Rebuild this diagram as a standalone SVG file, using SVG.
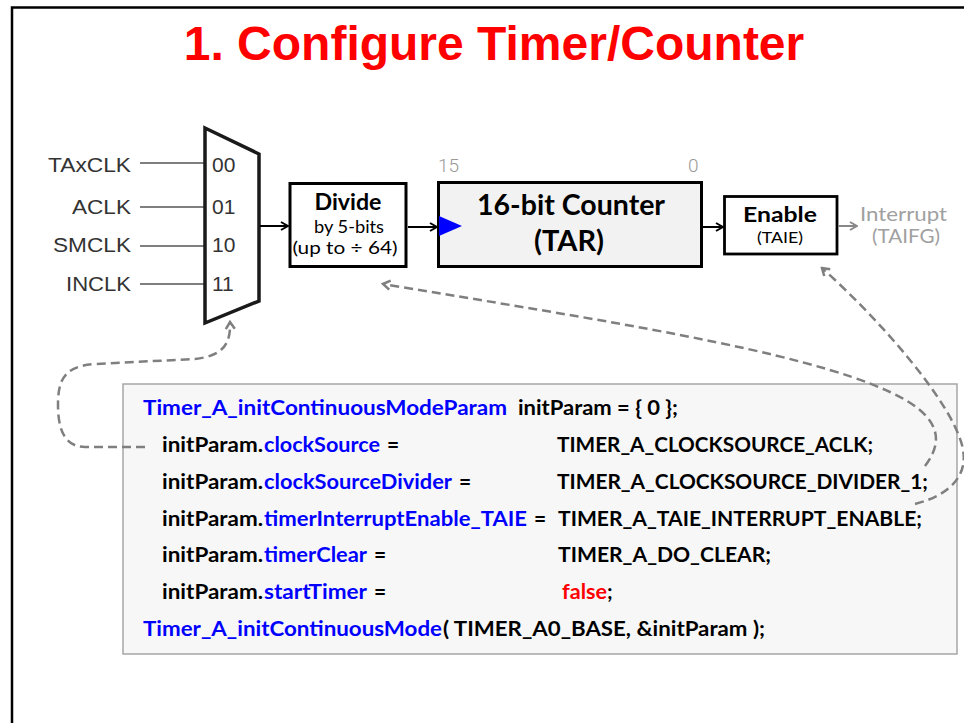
<svg xmlns="http://www.w3.org/2000/svg" width="964" height="723" viewBox="0 0 964 723">
<defs>
<style>
.cal{font-family:Lato,"Liberation Sans",sans-serif}
.arial{font-family:"Liberation Sans",Arial,sans-serif}
.code{font-family:Lato,"Liberation Sans",sans-serif;font-weight:bold;font-size:21px;fill:#000}
.blue{fill:#0000ff}
.red{fill:#ff0000}
.box{stroke:#000;stroke-width:3;fill:#fff}
.inl{stroke:#555;stroke-width:1.3}
.muxl{font-size:20px;fill:#333}
.dig{font-family:"Liberation Sans",Arial,sans-serif;font-size:21px;fill:#333}
.dash{fill:none;stroke:#7f7f7f;stroke-width:2.5;stroke-dasharray:9 5}
</style>
<marker id="ah" viewBox="0 0 10 10" refX="9" refY="5" markerWidth="10" markerHeight="10" markerUnits="userSpaceOnUse" orient="auto">
<path d="M2,1 L9,5 L2,9" fill="none" stroke="#000" stroke-width="2"/>
</marker>
<marker id="ahg" viewBox="0 0 10 10" refX="9" refY="5" markerWidth="10" markerHeight="10" markerUnits="userSpaceOnUse" orient="auto">
<path d="M2,1 L9,5 L2,9" fill="none" stroke="#888" stroke-width="2"/>
</marker>
<marker id="ahd" viewBox="0 0 12 12" refX="10" refY="6" markerWidth="12" markerHeight="12" markerUnits="userSpaceOnUse" orient="auto">
<path d="M3,1.5 L10,6 L3,10.5" fill="none" stroke="#7f7f7f" stroke-width="2.5"/>
</marker>
</defs>
<rect width="964" height="723" fill="#fff"/>
<path d="M12,730 L12,7.5 L970,7.5" fill="none" stroke="#000" stroke-width="2.5"/>
<text x="494" y="60" text-anchor="middle" class="arial" font-size="48" font-weight="bold" fill="#ff0000">1. Configure Timer/Counter</text>

<g id="mux">
<line class="inl" x1="140" y1="163" x2="205" y2="163"/>
<line class="inl" x1="140" y1="207" x2="205" y2="207"/>
<line class="inl" x1="140" y1="246" x2="205" y2="246"/>
<line class="inl" x1="140" y1="284" x2="205" y2="284"/>
<text class="arial muxl" x="131" y="172" text-anchor="end" textLength="83" lengthAdjust="spacingAndGlyphs">TAxCLK</text>
<text class="arial muxl" x="131" y="214" text-anchor="end" textLength="59" lengthAdjust="spacingAndGlyphs">ACLK</text>
<text class="arial muxl" x="131" y="252" text-anchor="end" textLength="78" lengthAdjust="spacingAndGlyphs">SMCLK</text>
<text class="arial muxl" x="131" y="291" text-anchor="end" textLength="65" lengthAdjust="spacingAndGlyphs">INCLK</text>
<polygon points="205,128 259,154 259,301 205,323" fill="#fff" stroke="#1a1a1a" stroke-width="3.5" stroke-linejoin="miter"/>
<text class="dig" x="212" y="172">00</text>
<text class="dig" x="212" y="214">01</text>
<text class="dig" x="212" y="252">10</text>
<text class="dig" x="212" y="291">11</text>
</g>

<g id="divide">
<rect class="box" x="290" y="183.5" width="116" height="83"/>
<text class="cal" x="348" y="210" text-anchor="middle" font-size="22" font-weight="bold" textLength="67" lengthAdjust="spacingAndGlyphs">Divide</text>
<text class="cal" x="349" y="233" text-anchor="middle" font-size="17" textLength="70" lengthAdjust="spacingAndGlyphs">by 5-bits</text>
<text class="cal" x="345" y="254" text-anchor="middle" font-size="17" textLength="105" lengthAdjust="spacingAndGlyphs">(up to ÷ 64)</text>
</g>

<g id="counter">
<text x="438" y="172" font-family="Roboto,sans-serif" font-weight="300" font-size="19" fill="#999">15</text>
<text x="688" y="172" font-family="Roboto,sans-serif" font-weight="300" font-size="19" fill="#999">0</text>
<rect x="438.5" y="182.5" width="263" height="84" fill="#f2f2f2" stroke="#000" stroke-width="3"/>
<polygon points="439,216 462,226 439,236" fill="#0000ff"/>
<text class="cal" x="571" y="215" text-anchor="middle" font-size="29" font-weight="bold" textLength="188" lengthAdjust="spacingAndGlyphs">16-bit Counter</text>
<text class="cal" x="569" y="251" text-anchor="middle" font-size="29" font-weight="bold">(TAR)</text>
</g>

<g id="enable">
<rect x="724.5" y="196.5" width="112.5" height="57.5" fill="#fff" stroke="#000" stroke-width="2.8"/>
<text class="cal" x="780" y="222" text-anchor="middle" font-size="21" font-weight="bold" textLength="74" lengthAdjust="spacingAndGlyphs">Enable</text>
<text class="cal" x="780" y="243" text-anchor="middle" font-size="16" textLength="46" lengthAdjust="spacingAndGlyphs">(TAIE)</text>
</g>

<g id="interrupt">
<text class="cal" x="860" y="221" font-size="19" fill="#a0a0a0" textLength="87" lengthAdjust="spacingAndGlyphs">Interrupt</text>
<text class="cal" x="872" y="243" font-size="19" fill="#a0a0a0" textLength="68" lengthAdjust="spacingAndGlyphs">(TAIFG)</text>
</g>

<g id="code">
<rect x="123" y="384" width="834" height="270" fill="#f7f7f7" stroke="#a6a6a6" stroke-width="1.5"/>
<text class="code blue" x="143" y="415" textLength="364" lengthAdjust="spacingAndGlyphs">Timer_A_initContinuousModeParam</text>
<text class="code" x="518" y="415" textLength="160" lengthAdjust="spacingAndGlyphs">initParam = { 0 };</text>

<text class="code" x="162" y="452" textLength="101" lengthAdjust="spacingAndGlyphs">initParam.</text>
<text class="code blue" x="264" y="452" textLength="116" lengthAdjust="spacingAndGlyphs">clockSource</text>
<text class="code" x="387" y="452">=</text>
<text class="code" x="557" y="452" textLength="316" lengthAdjust="spacingAndGlyphs">TIMER_A_CLOCKSOURCE_ACLK;</text>

<text class="code" x="162" y="489" textLength="101" lengthAdjust="spacingAndGlyphs">initParam.</text>
<text class="code blue" x="264" y="489" textLength="188" lengthAdjust="spacingAndGlyphs">clockSourceDivider</text>
<text class="code" x="459" y="489">=</text>
<text class="code" x="557" y="489" textLength="371" lengthAdjust="spacingAndGlyphs">TIMER_A_CLOCKSOURCE_DIVIDER_1;</text>

<text class="code" x="162" y="526" textLength="101" lengthAdjust="spacingAndGlyphs">initParam.</text>
<text class="code blue" x="264" y="526" textLength="263" lengthAdjust="spacingAndGlyphs">timerInterruptEnable_TAIE</text>
<text class="code" x="534" y="526">=</text>
<text class="code" x="558" y="526" textLength="364" lengthAdjust="spacingAndGlyphs">TIMER_A_TAIE_INTERRUPT_ENABLE;</text>

<text class="code" x="162" y="562" textLength="101" lengthAdjust="spacingAndGlyphs">initParam.</text>
<text class="code blue" x="264" y="562" textLength="103" lengthAdjust="spacingAndGlyphs">timerClear</text>
<text class="code" x="374" y="562">=</text>
<text class="code" x="558" y="562" textLength="213" lengthAdjust="spacingAndGlyphs">TIMER_A_DO_CLEAR;</text>

<text class="code" x="162" y="599" textLength="101" lengthAdjust="spacingAndGlyphs">initParam.</text>
<text class="code blue" x="264" y="599" textLength="103" lengthAdjust="spacingAndGlyphs">startTimer</text>
<text class="code" x="374" y="599">=</text>
<text class="code red" x="562" y="599" textLength="45" lengthAdjust="spacingAndGlyphs">false</text>
<text class="code" x="607" y="599">;</text>

<text class="code blue" x="143" y="636" textLength="299" lengthAdjust="spacingAndGlyphs">Timer_A_initContinuousMode</text>
<text class="code" x="443" y="636" textLength="322" lengthAdjust="spacingAndGlyphs">( TIMER_A0_BASE, &amp;initParam );</text>
</g>

<g id="connectors">
<line x1="260" y1="226" x2="288" y2="226" stroke="#000" stroke-width="2" marker-end="url(#ah)"/>
<line x1="408" y1="227" x2="437" y2="227" stroke="#000" stroke-width="2" marker-end="url(#ah)"/>
<line x1="703" y1="227" x2="723" y2="227" stroke="#000" stroke-width="2" marker-end="url(#ah)"/>
<line x1="838" y1="226" x2="857" y2="226" stroke="#888" stroke-width="2" marker-end="url(#ahg)"/>
<path class="dash" d="M145,447 L85,447 C65,447 58,430 58,405 C58,380 64,366 95,364 L195,359 C222,356 231,345 230,322" marker-end="url(#ahd)"/>
<path class="dash" d="M925,466 C945,440 940,415 890,392 C800,350 600,320 383,284" marker-end="url(#ahd)"/>
<path class="dash" d="M915,504 C950,495 970,475 962,445 C950,400 880,320 822,268" marker-end="url(#ahd)"/>
</g>
</svg>
